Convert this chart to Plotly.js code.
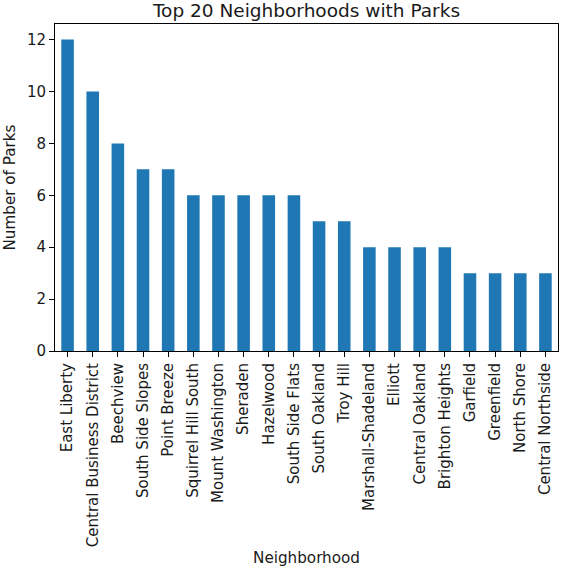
<!DOCTYPE html>
<html><head><meta charset="utf-8">
<script src="https://cdn.plot.ly/plotly-3.0.1.min.js"></script>
<style>html,body{margin:0;padding:0;background:#fff}</style>
</head><body><div id="chart" style="width:573px;height:576px"></div>
<script>
const neighborhoods = ["East Liberty","Central Business District","Beechview","South Side Slopes","Point Breeze","Squirrel Hill South","Mount Washington","Sheraden","Hazelwood","South Side Flats","South Oakland","Troy Hill","Marshall-Shadeland","Elliott","Central Oakland","Brighton Heights","Garfield","Greenfield","North Shore","Central Northside"];
const parkCounts = [12,10,8,7,7,6,6,6,6,6,5,5,4,4,4,4,3,3,3,3];
const yTicks = [0,2,4,6,8,10,12];

const tickFont = {family: "DejaVu Sans", size: 15, color: "#1a1a1a"};
const labelFont = {family: "DejaVu Sans", size: 15.2, color: "#1a1a1a"};
Plotly.newPlot("chart", [{
  type: "bar", x: neighborhoods, y: parkCounts, width: 0.5,
  marker: {color: "#1f77b4", line: {width: 0}}, hoverinfo: "none"
}], {
  width: 573, height: 576,
  margin: {l: 55, r: 15, t: 24, b: 225},
  paper_bgcolor: "#fff", plot_bgcolor: "#fff",
  font: tickFont,
  title: {text: "Top 20 Neighborhoods with Parks", font: {family: "DejaVu Sans", size: 18.5, color: "#1a1a1a"}, x: 0.5, xref: "paper", xanchor: "center", y: 0.981, yanchor: "middle"},
  xaxis: {
    type: "category", range: [-0.5, 19.5], tickangle: -90,
    showline: true, linecolor: "#000", linewidth: 1, mirror: true,
    ticks: "outside", ticklen: 5, tickcolor: "#000", showgrid: false, zeroline: false,
    tickfont: tickFont,
    title: {text: "Neighborhood", font: labelFont, standoff: 6}
  },
  yaxis: {
    range: [0, 12.6], tickvals: yTicks, ticktext: yTicks.map(String),
    showline: true, linecolor: "#000", linewidth: 1, mirror: true,
    ticks: "outside", ticklen: 5, tickcolor: "#000", showgrid: false, zeroline: false,
    tickfont: tickFont,
    title: {text: "Number of Parks", font: labelFont, standoff: 7}
  },
  showlegend: false
}, {staticPlot: true});
</script></body></html>
